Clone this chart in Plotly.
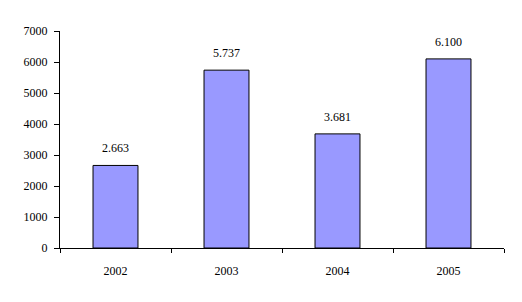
import plotly.graph_objects as go

years = ["2002", "2003", "2004", "2005"]
values = [2663, 5737, 3681, 6100]
labels = ["2.663", "5.737", "3.681", "6.100"]
y_ticks = [0, 1000, 2000, 3000, 4000, 5000, 6000, 7000]

font = dict(family="Liberation Serif", size=12, color="black")

fig = go.Figure(go.Bar(
    x=years, y=values,
    marker=dict(color="#9999FF", line=dict(color="black", width=1)),
    width=0.405,
))

for i, (v, t) in enumerate(zip(values, labels)):
    fig.add_annotation(x=i, y=v, text=t, showarrow=False, yshift=17,
                       font=font, yanchor="middle")

fig.update_layout(
    width=522, height=302,
    margin=dict(l=60, r=18, t=31, b=54),
    paper_bgcolor="white", plot_bgcolor="white",
    showlegend=False,
    font=font,
)
fig.update_xaxes(
    type="category", categoryorder="array", categoryarray=years,
    range=[-0.5, len(years) - 0.5],
    showline=True, linecolor="black", linewidth=1,
    ticks="outside", ticklen=4, tickcolor="black", tickson="boundaries",
    showgrid=False, ticklabelstandoff=12, tickfont=font, tickangle=0,
)
fig.update_yaxes(
    range=[0, 7000], tickvals=y_ticks, ticktext=[str(v) for v in y_ticks],
    showline=True, linecolor="black", linewidth=1,
    ticks="outside", ticklen=5, tickcolor="black",
    showgrid=False, zeroline=False, ticklabelstandoff=4, tickfont=font,
)

fig.write_html("out.html")
